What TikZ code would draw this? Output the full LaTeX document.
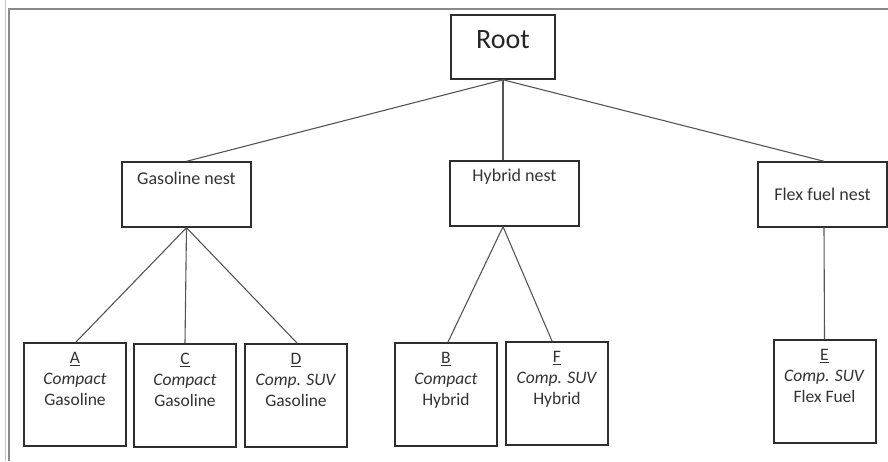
\documentclass[tikz,border=0pt]{standalone}
\usepackage{fontspec}
\setmainfont{Carlito}
\definecolor{boxc}{HTML}{2E2E2E}
\definecolor{connc}{HTML}{555555}
\definecolor{txtc}{HTML}{333333}
\definecolor{framec}{HTML}{8A8A8A}
\definecolor{framelt}{HTML}{C8C8C8}
\begin{document}
\begin{tikzpicture}[x=1pt,y=-1pt,
  box/.style={draw=boxc, line width=1.4pt, inner sep=0pt, fill=white},
  leafbox/.style={box, line width=2pt, minimum width=102pt, minimum height=103pt},
  nestbox/.style={box, minimum width=129pt, minimum height=65pt},
  conn/.style={draw=connc, line width=1.1pt},
  txt/.style={inner sep=0pt, text=txtc, font=\fontsize{17.5}{21}\selectfont, align=center},
  nesttxt/.style={inner sep=0pt, text=txtc, font=\fontsize{18}{21}\selectfont}
]
\useasboundingbox (0,0) rectangle (888,461);
\fill[white] (0,0) rectangle (888,461);
% frame
\draw[framelt, line width=1.5pt] (5.5,0) -- (5.5,461);
\draw[framec, line width=1.8pt] (9,461) -- (9,9) -- (888,9);

% root
\node[box, line width=1.6pt, minimum width=104pt, minimum height=64pt] (Root) at (503,47) {};
\node[inner sep=0pt, text=black!85, font=\fontsize{28}{32}\selectfont] (RootT) at (503,40) {Root};

% nests
\node[nestbox] (Gas) at (186.5,194.5) {};
\node[nesttxt] (GasT) at (186.5,178) {Gasoline nest};
\node[nestbox] (Hyb) at (514.5,193.5) {};
\node[nesttxt] (HybT) at (514.5,177) {Hybrid nest};
\node[nestbox] (Flex) at (822.5,194.5) {};
\node[nesttxt] (FlexT) at (822.5,194) {Flex fuel nest};

% leaves
\node[leafbox] (A) at (75,394.5) {};
\node[leafbox] (C) at (185,395.5) {};
\node[leafbox] (D) at (296,395.5) {};
\node[leafbox] (B) at (446,394.5) {};
\node[leafbox] (F) at (557,393.5) {};
\node[leafbox] (E) at (824.5,391.5) {};

\node[txt, anchor=north] (AT) at ([yshift=-10.4pt]A.north) {\underline{A}\\\textit{Compact}\\Gasoline};
\node[txt, anchor=north] (CT) at ([yshift=-10.4pt]C.north) {\underline{C}\\\textit{Compact}\\Gasoline};
\node[txt, anchor=north] (DT) at ([yshift=-10.4pt]D.north) {\underline{D}\\\textit{Comp. SUV}\\Gasoline};
\node[txt, anchor=north] (BT) at ([yshift=-10.4pt]B.north) {\underline{B}\\\textit{Compact}\\Hybrid};
\node[txt, anchor=north] (FT) at ([yshift=-10.4pt]F.north) {\underline{F}\\\textit{Comp. SUV}\\Hybrid};
\node[txt, anchor=north] (ET) at ([yshift=-10.4pt]E.north) {\underline{E}\\\textit{Comp. SUV}\\Flex Fuel};

% connectors
\draw[conn] (Root.south) -- (Gas.north);
\draw[conn] (Root.south) -- (Root.south |- Hyb.north);
\draw[conn] (Root.south) -- ([xshift=1.5pt]Flex.north);
\draw[conn] (Gas.south) -- ([xshift=1pt]A.north);
\draw[conn] (Gas.south) -- (C.north);
\draw[conn] (Gas.south) -- ([xshift=1pt]D.north);
\draw[conn] (Root.south |- Hyb.south) -- ([xshift=2pt]B.north);
\draw[conn] (Root.south |- Hyb.south) -- ([xshift=-5pt]F.north);
\draw[conn] ([xshift=1.5pt]Flex.south) -- (E.north);
\end{tikzpicture}
\end{document}
